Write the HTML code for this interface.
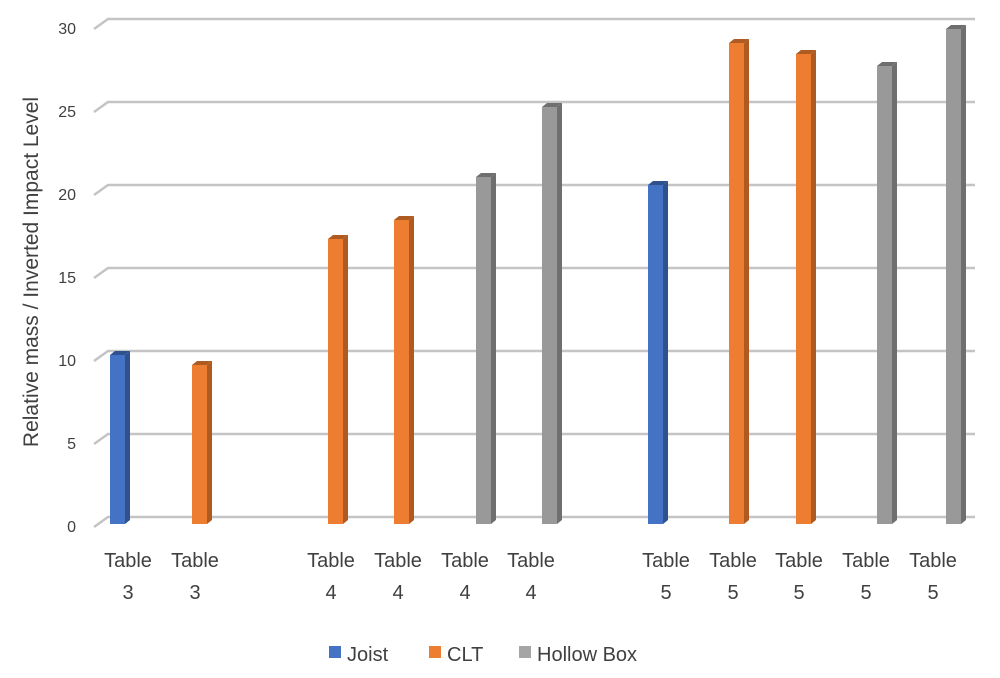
<!DOCTYPE html>
<html><head><style>body{margin:0;background:#fff}</style></head><body>
<svg width="1000" height="673" xmlns="http://www.w3.org/2000/svg" font-family="Liberation Sans, sans-serif">
<g stroke="#c4c4c4" stroke-width="2.5" fill="none">
<path d="M94,29 L108,19 H975"/><path d="M94,112 L108,102 H975"/><path d="M94,195 L108,185 H975"/>
<path d="M94,278 L108,268 H975"/><path d="M94,361 L108,351 H975"/><path d="M94,444 L108,434 H975"/>
<path d="M94,527 L108,517 H975"/>
</g>
<g font-size="16" fill="#404040" text-anchor="end">
<text x="76" y="34">30</text><text x="76" y="117">25</text><text x="76" y="200">20</text>
<text x="76" y="283">15</text><text x="76" y="366">10</text><text x="76" y="449">5</text><text x="76" y="532">0</text>
</g>
<text transform="translate(38,272) rotate(-90)" font-size="21" fill="#404040" text-anchor="middle">Relative mass / Inverted Impact Level</text>

<g>
<rect x="110" y="355" width="15" height="169" fill="#4472c4"/><polygon points="125,355 130,351 130,520 125,524" fill="#2f528f"/><polygon points="110,355 115,351 130,351 125,355" fill="#2f528f"/>
<rect x="192" y="365" width="15" height="159" fill="#ed7d31"/><polygon points="207,365 212,361 212,520 207,524" fill="#ae5a21"/><polygon points="192,365 197,361 212,361 207,365" fill="#ae5a21"/>
<rect x="328" y="239" width="15" height="285" fill="#ed7d31"/><polygon points="343,239 348,235 348,520 343,524" fill="#ae5a21"/><polygon points="328,239 333,235 348,235 343,239" fill="#ae5a21"/>
<rect x="394" y="220" width="15" height="304" fill="#ed7d31"/><polygon points="409,220 414,216 414,520 409,524" fill="#ae5a21"/><polygon points="394,220 399,216 414,216 409,220" fill="#ae5a21"/>
<rect x="476" y="177" width="15" height="347" fill="#999"/><polygon points="491,177 496,173 496,520 491,524" fill="#6f6f6f"/><polygon points="476,177 481,173 496,173 491,177" fill="#6f6f6f"/>
<rect x="542" y="107" width="15" height="417" fill="#999"/><polygon points="557,107 562,103 562,520 557,524" fill="#6f6f6f"/><polygon points="542,107 547,103 562,103 557,107" fill="#6f6f6f"/>
<rect x="648" y="185" width="15" height="339" fill="#4472c4"/><polygon points="663,185 668,181 668,520 663,524" fill="#2f528f"/><polygon points="648,185 653,181 668,181 663,185" fill="#2f528f"/>
<rect x="729" y="43" width="15" height="481" fill="#ed7d31"/><polygon points="744,43 749,39 749,520 744,524" fill="#ae5a21"/><polygon points="729,43 734,39 749,39 744,43" fill="#ae5a21"/>
<rect x="796" y="54" width="15" height="470" fill="#ed7d31"/><polygon points="811,54 816,50 816,520 811,524" fill="#ae5a21"/><polygon points="796,54 801,50 816,50 811,54" fill="#ae5a21"/>
<rect x="877" y="66" width="15" height="458" fill="#999"/><polygon points="892,66 897,62 897,520 892,524" fill="#6f6f6f"/><polygon points="877,66 882,62 897,62 892,66" fill="#6f6f6f"/>
<rect x="946" y="29" width="15" height="495" fill="#999"/><polygon points="961,29 966,25 966,520 961,524" fill="#6f6f6f"/><polygon points="946,29 951,25 966,25 961,29" fill="#6f6f6f"/>
</g>

<g font-size="20" fill="#404040" text-anchor="middle">
<text x="128" y="567">Table</text><text x="128" y="599">3</text>
<text x="195" y="567">Table</text><text x="195" y="599">3</text>
<text x="331" y="567">Table</text><text x="331" y="599">4</text>
<text x="398" y="567">Table</text><text x="398" y="599">4</text>
<text x="465" y="567">Table</text><text x="465" y="599">4</text>
<text x="531" y="567">Table</text><text x="531" y="599">4</text>
<text x="666" y="567">Table</text><text x="666" y="599">5</text>
<text x="733" y="567">Table</text><text x="733" y="599">5</text>
<text x="799" y="567">Table</text><text x="799" y="599">5</text>
<text x="866" y="567">Table</text><text x="866" y="599">5</text>
<text x="933" y="567">Table</text><text x="933" y="599">5</text>
</g>

<rect x="329" y="646" width="12" height="12" fill="#4472c4"/><text x="347" y="661" font-size="20" fill="#404040">Joist</text>
<rect x="429" y="646" width="12" height="12" fill="#ed7d31"/><text x="447" y="661" font-size="20" fill="#404040">CLT</text>
<rect x="519" y="646" width="12" height="12" fill="#a5a5a5"/><text x="537" y="661" font-size="20" fill="#404040">Hollow Box</text>
</svg>
</body></html>
